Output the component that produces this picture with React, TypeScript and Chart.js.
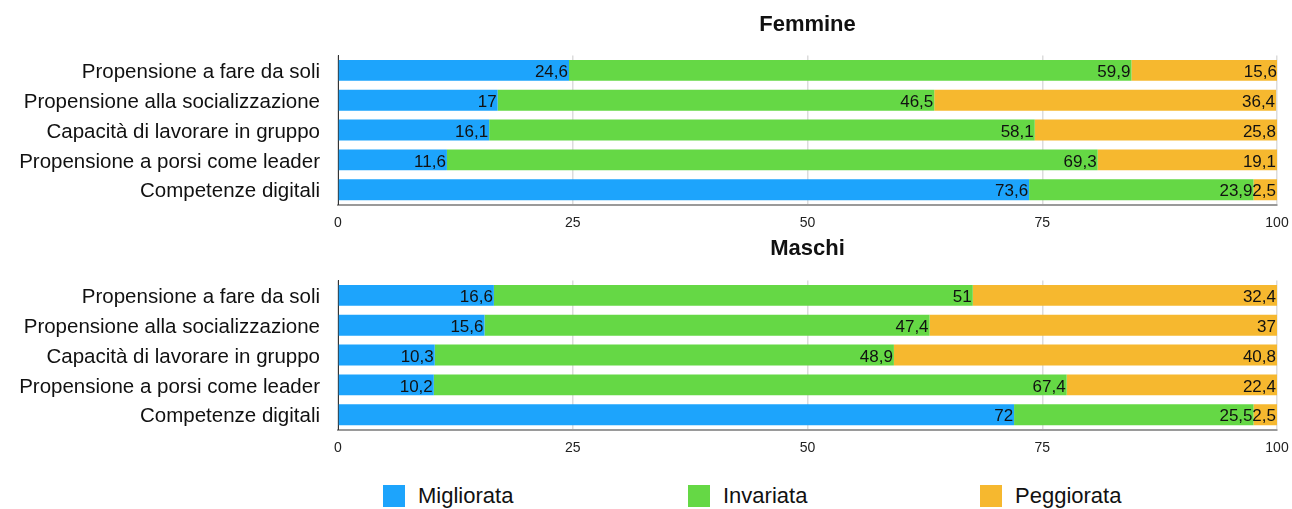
import React, { useEffect, useRef } from "react";
import { Chart, registerables } from "chart.js";

Chart.register(...registerables);

const categories = [
  "Propensione a fare da soli",
  "Propensione alla socializzazione",
  "Capacità di lavorare in gruppo",
  "Propensione a porsi come leader",
  "Competenze digitali",
];

const seriesNames = ["Migliorata", "Invariata", "Peggiorata"];
const seriesColors = ["#1DA4FC", "#65D845", "#F6B82F"];

const femmineMigliorata = [24.6, 17, 16.1, 11.6, 73.6];
const femmineInvariata = [59.9, 46.5, 58.1, 69.3, 23.9];
const femminePeggiorata = [15.6, 36.4, 25.8, 19.1, 2.5];

const maschiMigliorata = [16.6, 15.6, 10.3, 10.2, 72];
const maschiInvariata = [51, 47.4, 48.9, 67.4, 25.5];
const maschiPeggiorata = [32.4, 37, 40.8, 22.4, 2.5];

const xTicks = [0, 25, 50, 75, 100];

const FONT = "'Liberation Sans', Arial, Helvetica, sans-serif";

const valueLabelPlugin = {
  id: "valueLabels",
  afterDatasetsDraw(chart: any) {
    const ctx = chart.ctx;
    ctx.save();
    ctx.font = `17px ${FONT}`;
    ctx.fillStyle = "#111";
    ctx.textAlign = "right";
    ctx.textBaseline = "middle";
    chart.data.datasets.forEach((ds: any, di: number) => {
      const meta = chart.getDatasetMeta(di);
      meta.data.forEach((el: any, i: number) => {
        const v = ds.data[i];
        const txt = String(v).replace(".", ",");
        ctx.fillText(txt, el.x - 1, el.y + 2);
      });
    });
    ctx.restore();
  },
};

function StackedChart({ title, values, top, titlePadTop, titlePadBottom }: any) {
  const ref = useRef<HTMLCanvasElement | null>(null);
  useEffect(() => {
    if (!ref.current) return;
    const chart = new Chart(ref.current, {
      type: "bar",
      data: {
        labels: categories,
        datasets: seriesNames.map((n, i) => ({
          label: n,
          data: values[i],
          backgroundColor: seriesColors[i],
          borderWidth: 0,
          barPercentage: 0.7,
          categoryPercentage: 1.0,
        })),
      },
      options: {
        indexAxis: "y",
        responsive: false,
        animation: false,
        layout: { padding: { left: 0, right: 15, top: 0, bottom: 0 } },
        plugins: {
          legend: { display: false },
          tooltip: { enabled: false },
          title: {
            display: true,
            text: title,
            fullSize: false,
            color: "#111",
            font: { family: FONT, size: 22, weight: "bold" },
            padding: { top: titlePadTop, bottom: titlePadBottom },
          },
        },
        scales: {
          x: {
            stacked: true,
            min: 0,
            max: 100,
            afterBuildTicks: (s: any) => {
              s.ticks = xTicks.map((v) => ({ value: v }));
            },
            afterFit: (s: any) => {
              s.height = 30;
              s.paddingRight = 0;
            },
            grid: { color: "#dcdcdc", drawTicks: false, lineWidth: 1.5 },
            border: { color: "#9a9a9a", width: 2 },
            ticks: {
              color: "#222",
              padding: 10,
              font: { family: FONT, size: 14 },
              maxRotation: 0,
            },
          },
          y: {
            stacked: true,
            afterFit: (s: any) => {
              s.width = 338;
            },
            grid: { display: false, drawTicks: false },
            border: { color: "#333", width: 1 },
            ticks: {
              color: "#111",
              padding: 18,
              labelOffset: 2,
              font: { family: FONT, size: 20.5 },
            },
          },
        },
      },
      plugins: [valueLabelPlugin],
    } as any);
    return () => chart.destroy();
  }, []);
  return (
    <canvas
      ref={ref}
      width={1292}
      height={235}
      style={{ position: "absolute", left: 0, top, width: 1292, height: 235, display: "block" }}
    />
  );
}

const legendLefts = [383, 688, 980];

export default function App() {
  return (
    <div
      style={{
        position: "absolute",
        left: 0,
        top: 0,
        width: 1292,
        height: 509,
        background: "#fff",
        overflow: "hidden",
      }}
    >
      <StackedChart
        title="Femmine"
        values={[femmineMigliorata, femmineInvariata, femminePeggiorata]}
        top={0}
        titlePadTop={12}
        titlePadBottom={17}
      />
      <StackedChart
        title="Maschi"
        values={[maschiMigliorata, maschiInvariata, maschiPeggiorata]}
        top={225}
        titlePadTop={11}
        titlePadBottom={18}
      />
      {seriesNames.map((n, i) => (
        <div
          key={n}
          style={{
            position: "absolute",
            left: legendLefts[i],
            top: 485,
            height: 22,
            display: "flex",
            alignItems: "center",
            fontFamily: FONT,
            fontSize: 22,
            color: "#111",
            whiteSpace: "nowrap",
          }}
        >
          <span
            style={{
              display: "inline-block",
              width: 22,
              height: 22,
              background: seriesColors[i],
              marginRight: 13,
            }}
          />
          <span>{n}</span>
        </div>
      ))}
    </div>
  );
}
